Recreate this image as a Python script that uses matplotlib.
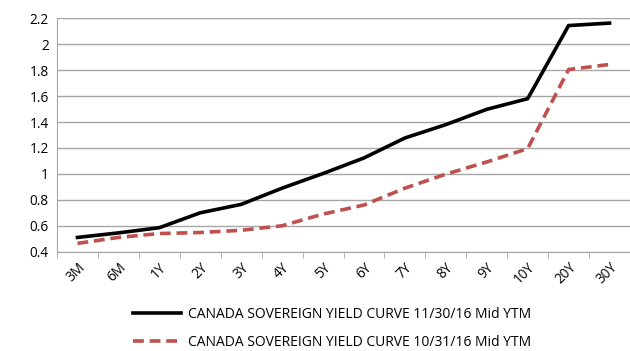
import numpy as np
import matplotlib.pyplot as plt

plt.rcParams['font.family'] = ['Open Sans', 'DejaVu Sans']

tenors = ['3M', '6M', '1Y', '2Y', '3Y', '4Y', '5Y', '6Y', '7Y', '8Y', '9Y',
          '10Y', '20Y', '30Y']
curve_nov = [0.51, 0.545, 0.585, 0.70, 0.765, 0.89, 1.003, 1.123, 1.277,
             1.38, 1.498, 1.58, 2.144, 2.163]
curve_oct = [0.464, 0.51, 0.54, 0.548, 0.565, 0.60, 0.69, 0.76, 0.89,
             0.998, 1.092, 1.195, 1.805, 1.844]
label_nov = 'CANADA SOVEREIGN YIELD CURVE 11/30/16 Mid YTM'
label_oct = 'CANADA SOVEREIGN YIELD CURVE 10/31/16 Mid YTM'

fig = plt.figure(figsize=(6.3, 3.51), dpi=100)
ax = fig.add_axes([57/630, 1-251.7/351, 573/630, (251.7-18.3)/351])

x = np.arange(len(tenors))
ax.plot(x, curve_nov, color='black', lw=2.6, label=label_nov)
ax.plot(x, curve_oct, color='#C0504D', lw=2.6, ls=(0, (3, 1.6)),
        label=label_oct)

ax.set_xlim(-0.5, len(tenors) - 0.5)
ax.set_ylim(0.4, 2.2)
ax.set_yticks(np.arange(0.4, 2.21, 0.2))
ax.set_yticklabels(['0.4', '0.6', '0.8', '1', '1.2', '1.4', '1.6', '1.8',
                    '2', '2.2'])
ax.yaxis.grid(True, color='#A6A6A6', lw=1)
ax.set_axisbelow(True)

ax.set_xticks(x)
ax.set_xticklabels(tenors, rotation=45, ha='right', rotation_mode='anchor')
ax.set_xticks(np.arange(-0.5, len(tenors), 1), minor=True)
ax.tick_params(axis='x', which='major', length=0, pad=6)
ax.tick_params(axis='x', which='minor', length=4, color='#A6A6A6')
ax.tick_params(axis='y', length=0, pad=6)
ax.tick_params(labelsize=9.8, colors='black')

for s in ['top', 'right']:
    ax.spines[s].set_visible(False)
for s in ['left', 'bottom']:
    ax.spines[s].set_color('#A6A6A6')

fig.legend(loc='center', bbox_to_anchor=(0.527, 0.064), frameon=False,
           fontsize=10, handlelength=3.5, handletextpad=0.5,
           labelspacing=0.95)

fig.savefig('out.png', dpi=100)
